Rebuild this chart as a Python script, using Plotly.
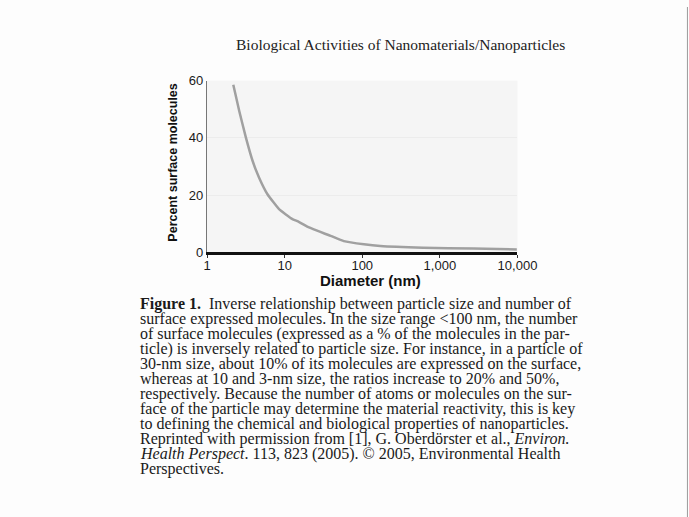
import plotly.graph_objects as go

# Data
diameter_nm = [2.18, 2.6, 3.17, 3.86, 4.69, 6.01, 8.47, 12.6, 14.6, 20.6, 23.8, 33.7, 39.1, 57.9, 105, 171, 611, 2690, 9800]
percent_surface = [58.6, 49.4, 40.1, 32.0, 26.1, 20.3, 15.1, 11.6, 10.9, 8.7, 8.0, 6.4, 5.75, 3.9, 2.8, 2.2, 1.6, 1.3, 1.0]

x_tickvals = [1, 10, 100, 1000, 10000]
x_ticktext = ["1", "10", "100", "1,000", "10,000"]
y_tickvals = [0, 20, 40, 60]
y_ticktext = ["0", "20", "40", "60"]

header = "Biological Activities of Nanomaterials/Nanoparticles"
x_title = "Diameter (nm)"
y_title = "Percent surface molecules"
caption_lines = [
    "<b>Figure 1.</b>  Inverse relationship between particle size and number of",
    "surface expressed molecules. In the size range &lt;100 nm, the number",
    "of surface molecules (expressed as a % of the molecules in the par-",
    "ticle) is inversely related to particle size. For instance, in a particle of",
    "30-nm size, about 10% of its molecules are expressed on the surface,",
    "whereas at 10 and 3-nm size, the ratios increase to 20% and 50%,",
    "respectively. Because the number of atoms or molecules on the sur-",
    "face of the particle may determine the material reactivity, this is key",
    "to defining the chemical and biological properties of nanoparticles.",
    "Reprinted with permission from [1], G. Oberdörster et al., <i>Environ.</i>",
    "<i>Health Perspect</i>. 113, 823 (2005). © 2005, Environmental Health",
    "Perspectives.",
]

# page size and mapping from target-picture pixels to page pixels
WF, HF = 712, 526
SX, AX = 0.9695, 2.3
SY, AY = 0.974, 7.1


def fx(px):
    return ((px - AX) / SX) / WF


def fy(py):
    return 1 - ((py - AY) / SY) / HF


fig = go.Figure()
fig.add_trace(go.Scatter(
    x=diameter_nm, y=percent_surface, mode="lines",
    line=dict(color="#a0a0a0", width=2.5, shape="spline", smoothing=0.4),
    hoverinfo="skip", showlegend=False,
))

fig.update_layout(
    width=WF, height=HF,
    margin=dict(l=0, r=0, t=0, b=0),
    paper_bgcolor="#fdfdfd",
    plot_bgcolor="#f5f5f5",
    showlegend=False,
    xaxis=dict(
        type="log", range=[0, 4], domain=[fx(206), fx(517.5)],
        tickvals=x_tickvals, ticktext=x_ticktext,
        showgrid=False, zeroline=False,
        showline=True, linecolor="#111111", linewidth=2.5,
        ticks="outside", ticklen=3, tickwidth=1, tickcolor="#333333",
        ticklabelstandoff=-3,
        tickfont=dict(family="Liberation Sans", size=13, color="#1a1a1a"),
    ),
    yaxis=dict(
        range=[0, 60], domain=[fy(253), fy(81)],
        tickvals=y_tickvals, ticktext=y_ticktext,
        showgrid=True, gridcolor="#ececec", gridwidth=1,
        zeroline=False,
        showline=True, linecolor="#777777", linewidth=1.2,
        ticks="", ticklen=0,
        tickfont=dict(family="Liberation Sans", size=13, color="#1a1a1a"),
    ),
)

ann = []
ann.append(dict(text=header, x=fx(400), y=fy(45), xref="paper", yref="paper",
                xanchor="center", yanchor="middle", showarrow=False,
                font=dict(family="Liberation Serif", size=15.5, color="#222222")))
ann.append(dict(text="<b>" + x_title + "</b>", x=fx(370), y=fy(281), xref="paper", yref="paper",
                xanchor="center", yanchor="middle", showarrow=False,
                font=dict(family="Liberation Sans", size=15, color="#111111")))
ann.append(dict(text="<b>" + y_title + "</b>", x=fx(172), y=fy(163), xref="paper", yref="paper",
                xanchor="center", yanchor="middle", showarrow=False, textangle=-90,
                font=dict(family="Liberation Sans", size=12.5, color="#111111")))
for i, line in enumerate(caption_lines):
    ann.append(dict(text=line, x=fx(137), y=fy(305 + 15 * i), xref="paper", yref="paper",
                    xanchor="left", yanchor="middle", showarrow=False,
                    font=dict(family="Liberation Serif", size=16, color="#1a1a1a")))
fig.update_layout(annotations=ann)

# scanned page edge on the right
fig.add_shape(type="line", xref="paper", yref="paper", x0=fx(688), x1=fx(688), y0=0, y1=1,
              line=dict(color="#9a9a9a", width=1))

fig.write_html(
    "out.html",
    config={"displayModeBar": False, "staticPlot": True},
    post_script=(
        "document.documentElement.style.margin='0';"
        "document.body.style.margin='0';"
        "document.body.style.overflow='hidden';"
    ),
)
